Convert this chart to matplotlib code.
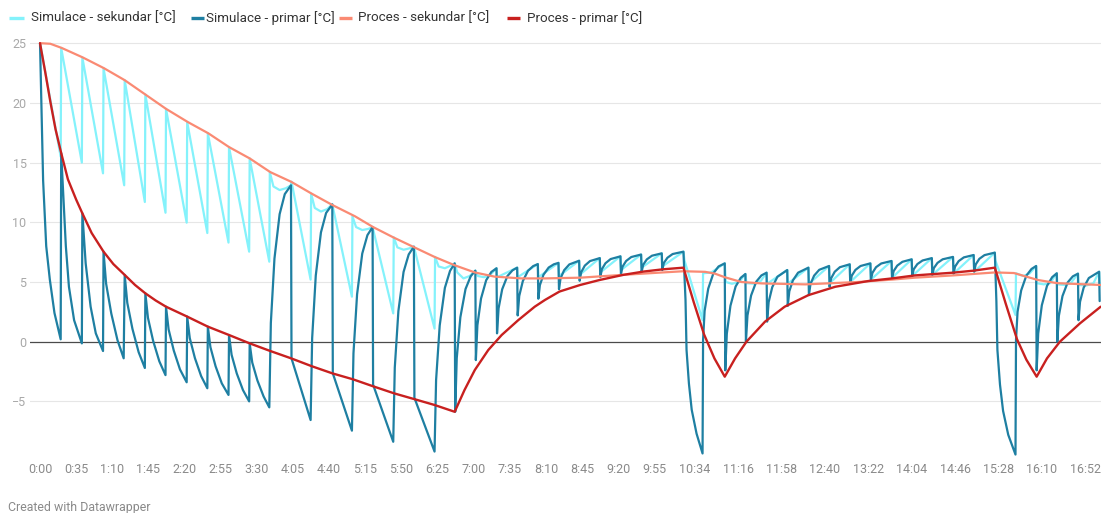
import matplotlib
matplotlib.use("Agg")
import matplotlib.pyplot as plt
from matplotlib.lines import Line2D

plt.rcParams['font.family'] = ['Roboto', 'DejaVu Sans']

# ---------------- data (time in minutes, temperature in °C) ----------------
series_names = ["Simulace - sekundar [°C]", "Simulace - primar [°C]",
                "Proces - sekundar [°C]", "Proces - primar [°C]"]
series_colors = ["#84f2fb", "#1e7fa2", "#fa8a73", "#c8201f"]

x_tick_labels = ['0:00', '0:35', '1:10', '1:45', '2:20', '2:55', '3:30', '4:05',
                 '4:40', '5:15', '5:50', '6:25', '7:00', '7:35', '8:10', '8:45',
                 '9:20', '9:55', '10:34', '11:16', '11:58', '12:40', '13:22',
                 '14:04', '14:46', '15:28', '16:10', '16:52']
y_ticks = [-5, 0, 5, 10, 15, 20, 25]

sim_sekundar = [
    (0, 25), (20, 15.5), (20.5, 24.6), (40.5, 15.0), (41, 23.8), (61, 14.1),
    (61.5, 22.9), (81.5, 13.1), (82, 21.9), (101.5, 11.7), (102, 20.7), (121.5, 10.8),
    (122, 19.5), (142, 9.97), (142.5, 18.4), (162, 9.1), (162.5, 17.45), (182.5, 8.3),
    (183, 16.3), (202.5, 7.54), (203, 15.35), (222, 6.7),
    (222.5, 14.2), (226, 13.0), (232, 12.7), (238, 12.85), (243, 13.1),
    (243.5, 13.4), (262, 5.2),
    (262.5, 12.4), (266, 11.2), (272, 10.9), (278, 11.1), (283, 11.5), (302, 3.77),
    (302.5, 10.5), (306, 9.6), (312, 9.35), (318, 9.45), (322, 9.6), (342, 2.37),
    (342.5, 8.74), (346, 7.9), (352, 7.7), (357, 7.8), (362, 7.96), (382, 1.1),
    (382.5, 7.1), (386, 6.3), (392, 6.15), (397, 6.35), (401.5, 6.56),
    (404, 5.8), (410, 5.3), (416, 5.5), (421.5, 5.95),
    (424, 5.5), (430, 5.4), (436, 5.6), (442, 6.15),
    (442.5, 5.4), (462, 6.2), (462.5, 5.4), (482, 6.5), (482.5, 5.4), (502, 6.6),
    (502.5, 5.5), (522, 6.78), (522.5, 5.6), (542, 7.0), (542.5, 5.8), (562, 7.15),
    (562.5, 6.0), (582, 7.3), (582.5, 6.2), (602, 7.4), (602.5, 6.3), (623, 7.54),
    (624, 6.8), (641.5, 1.8),
    (642, 5.73), (650, 5.8), (656, 6.15), (663, 6.56),
    (664, 5.0), (670, 4.85), (677, 5.0), (683, 5.67),
    (684, 4.9), (692, 4.85), (698, 5.1), (703.5, 5.78),
    (704, 4.85), (723.5, 6.0), (724, 4.85), (744, 6.2), (744.5, 4.85), (764, 6.34),
    (764.5, 4.9), (784, 6.48), (784.5, 5.0), (804, 6.56), (804.5, 5.2), (824.5, 6.76),
    (825, 5.35), (844, 6.9), (844.5, 5.5), (863.5, 7.0), (864, 5.6), (884, 7.1),
    (884.5, 5.7), (904, 7.26), (904.5, 5.85), (924.5, 7.46),
    (925, 6.8), (944.5, 2.24),
    (945, 5.73), (952, 5.5), (958, 5.7), (964.5, 6.34),
    (965, 4.9), (972, 4.8), (978, 4.9), (984.5, 5.73),
    (985, 4.8), (992, 4.75), (998, 4.9), (1005, 5.7),
    (1005.5, 4.75), (1013, 4.7), (1020, 4.9), (1025.5, 5.86), (1026, 4.7),
]

sim_primar = [
    (0, 25), (3, 13.5), (6, 8.0), (9.5, 5.2), (14, 2.4), (20, 0.2),
    (20.5, 15.8), (23.5, 10.7), (25, 8.0), (28, 4.6), (33, 1.8), (40.5, -0.14),
    (41, 10.75), (44.2, 6.56), (49, 2.93), (54, 0.7), (61, -0.78),
    (61.5, 7.54), (64, 4.86), (69, 2.36), (75, 0.13), (81, -1.39),
    (82, 5.59), (84.5, 3.25), (89.5, 1.07), (95.5, -0.88), (101.5, -2.2),
    (102, 4.05), (104.5, 2.0), (109.5, 0.08), (115.5, -1.64), (121.5, -2.8),
    (122, 2.93), (124.5, 1.03), (129.5, -0.74), (135.5, -2.32), (142, -3.4),
    (142.5, 2.1), (145, 0.3), (150, -1.38), (156, -2.88), (162, -3.9),
    (162.5, 1.26), (165, -0.46), (170, -2.06), (176, -3.49), (182.5, -4.46),
    (183, 0.56), (185.5, -1.1), (190.5, -2.66), (196.5, -4.05), (202.5, -5.0),
    (203, -0.14), (205.5, -1.75), (210.5, -3.25), (216.5, -4.59), (222, -5.5),
    (223.5, 1.57), (227, 6.96), (232, 10.68), (237, 12.36), (243, 13.1),
    (243.5, -1.4), (262, -6.56),
    (263.5, 0.3), (267, 5.54), (272, 9.15), (277, 10.78), (283, 11.5),
    (283.5, -2.65), (302, -7.45),
    (303.5, -0.97), (307, 3.97), (312, 7.38), (317, 8.92), (322, 9.6),
    (322.5, -3.6), (342, -8.38),
    (343.5, -2.17), (347, 2.57), (352, 5.84), (357, 7.31), (362, 7.96),
    (362.5, -4.7), (382, -9.2),
    (383.5, -3.21), (387, 1.36), (392, 4.51), (397, 5.93), (401.5, 6.56),
    (402, -5.87), (403.5, -1.38), (407, 2.05), (412, 4.41), (417, 5.48), (421.5, 5.95),
    (422, -1.54), (423.5, 1.38), (427, 3.61), (432, 5.15), (437, 5.84), (442, 6.15),
    (442.5, 0.7), (444, 2.79), (447.5, 4.39), (452.5, 5.49), (457.5, 5.98), (462, 6.2),
    (462.5, 2.2), (464, 3.83), (467.5, 5.08), (472.5, 5.94), (477.5, 6.33), (482, 6.5),
    (482.5, 3.6), (484, 4.74), (487.5, 5.61), (492.5, 6.21), (497.5, 6.48), (502, 6.6),
    (502.5, 4.4), (504, 5.3), (507.5, 5.99), (512.5, 6.47), (522, 6.78),
    (522.5, 5.1), (524, 5.82), (527.5, 6.37), (532.5, 6.75), (542, 7.0),
    (542.5, 5.4), (544, 6.07), (547.5, 6.57), (552.5, 6.92), (562, 7.15),
    (562.5, 5.65), (564, 6.28), (567.5, 6.76), (572.5, 7.09), (582, 7.3),
    (582.5, 5.85), (584, 6.44), (587.5, 6.89), (592.5, 7.2), (602, 7.4),
    (602.5, 6.0), (604, 6.59), (607.5, 7.03), (612.5, 7.34), (623, 7.54),
    (625, 3.5), (626, -0.7), (628.3, -3.5), (631, -5.7), (635.7, -7.7), (641.5, -9.36),
    (642, 0.14), (643.5, 2.58), (647, 4.44), (652, 5.73), (657, 6.3), (663, 6.56),
    (663.5, -2.4), (665, 0.67), (668.5, 3.01), (673.5, 4.62), (678.5, 5.35), (683, 5.67),
    (683.5, 0.0), (685, 2.2), (688.5, 3.87), (693.5, 5.03), (698.5, 5.55), (703.5, 5.78),
    (704, 1.68), (705.5, 3.32), (709, 4.57), (714, 5.44), (723.5, 6.0),
    (724, 3.0), (725.5, 4.22), (729, 5.14), (734, 5.78), (744, 6.2),
    (744.5, 3.9), (746, 4.83), (749.5, 5.53), (754.5, 6.02), (764, 6.34),
    (764.5, 4.6), (766, 5.31), (769.5, 5.86), (774.5, 6.24), (784, 6.48),
    (784.5, 4.9), (786, 5.53), (789.5, 6.01), (794.5, 6.34), (804, 6.56),
    (804.5, 5.17), (806, 5.77), (809.5, 6.24), (814.5, 6.55), (824.5, 6.76),
    (825, 5.3), (826.5, 5.91), (830, 6.37), (835, 6.69), (844, 6.9),
    (844.5, 5.5), (846, 6.07), (849.5, 6.5), (854.5, 6.8), (863.5, 7.0),
    (864, 5.6), (865.5, 6.17), (869, 6.6), (874, 6.9), (884, 7.1),
    (884.5, 5.7), (886, 6.29), (889.5, 6.75), (894.5, 7.06), (904, 7.26),
    (904.5, 5.87), (906, 6.47), (909.5, 6.94), (914.5, 7.25), (924.5, 7.46),
    (926, 3.4), (927, -0.7), (929.5, -3.6), (932.5, -5.8), (937.5, -7.8), (944.5, -9.45),
    (945, 0.14), (946.5, 2.5), (950, 4.29), (955, 5.53), (960, 6.09), (964.5, 6.34),
    (965, -2.4), (966.5, 0.69), (970, 3.05), (975, 4.67), (980, 5.4), (984.5, 5.73),
    (985, 0.0), (986.5, 2.17), (990, 3.82), (995, 4.96), (1000, 5.47), (1005, 5.7),
    (1005.5, 1.8), (1007, 3.34), (1010.5, 4.52), (1015.5, 5.33), (1025.5, 5.86),
    (1026, 3.4),
]

proc_sekundar = [
    (0, 25), (10, 24.95), (21, 24.6), (41.5, 23.8), (62, 22.9), (82, 21.9), (102, 20.7),
    (122, 19.5), (143, 18.4), (163, 17.45), (183, 16.3), (203, 15.35), (223, 14.2),
    (243, 13.4), (263, 12.4), (283, 11.45), (305, 10.5), (322.5, 9.6), (342, 8.74),
    (361, 7.96), (382, 7.1), (401.5, 6.4), (421, 5.8), (440, 5.45), (466, 5.3),
    (489, 5.3), (523, 5.36), (565, 5.6), (603, 5.8), (623, 5.9), (644, 5.85),
    (653.5, 5.7), (663, 5.4), (679, 5.0), (699, 4.88), (741, 4.8), (792, 5.0),
    (825, 5.2), (847, 5.36), (884, 5.55), (924.5, 5.8), (943, 5.75), (953, 5.5),
    (966, 5.17), (985, 4.9), (1027, 4.75),
]

proc_primar = [
    (0, 25), (5, 22.6), (10, 20.1), (15, 17.8), (20.5, 15.8), (27, 13.6), (35, 11.9),
    (41, 10.75), (50, 9.1), (61.5, 7.54), (71, 6.5), (82, 5.59), (92, 4.75), (102, 4.05),
    (112, 3.45), (122, 2.93), (142.5, 2.1), (162.5, 1.26), (183, 0.56), (203, -0.14),
    (222, -0.75), (243, -1.39), (263, -2.05), (283, -2.65), (303, -3.15), (323, -3.75),
    (343, -4.33), (362, -4.8), (382, -5.3), (401.5, -5.87), (411, -4.05), (421, -2.37),
    (434, -0.7), (447, 0.56), (463, 1.8), (479, 2.93), (489, 3.5), (503, 4.2),
    (523, 4.75), (542, 5.17), (565, 5.6), (584, 5.87), (603, 6.06), (623, 6.2),
    (633, 3.3), (643, 0.6), (653, -1.4), (663, -2.93), (673, -1.4), (684, 0.0),
    (702, 1.68), (721, 2.93), (744, 3.9), (770, 4.6), (802, 5.08), (825, 5.3),
    (847, 5.55), (884, 5.78), (904, 5.95), (924.5, 6.2), (935, 3.2), (946, 0.2),
    (955, -1.5), (965, -2.93), (975, -1.4), (987.5, 0.0), (1007, 1.54), (1027, 2.93),
]

# ---------------- figure ----------------
W, H = 1101, 513
fig = plt.figure(figsize=(W / 100, H / 100), dpi=100)
ax_left, ax_right, ax_top, ax_bottom = 30, 1101, 37.2, 461.1
ax = fig.add_axes([ax_left / W, 1 - ax_bottom / H, (ax_right - ax_left) / W,
                   (ax_bottom - ax_top) / H])
ax.set_xlim(-9.7, 1027.3)
ax.set_ylim(-10, 25.5)

for yv in y_ticks:
    if yv == 0:
        ax.axhline(yv, color="#4a4a4a", lw=0.9, zorder=1)
    else:
        ax.axhline(yv, color="#e6e6e6", lw=0.8, zorder=0)

all_series = [sim_sekundar, sim_primar, proc_sekundar, proc_primar]
widths = [1.6, 1.6, 1.6, 1.7]
for i, s in enumerate(all_series):
    ts = [p[0] for p in s]
    vs = [p[1] for p in s]
    ax.plot(ts, vs, color=series_colors[i], lw=widths[i], zorder=2 + i,
            solid_joinstyle='round', solid_capstyle='round')

x_ticks = [int(l.split(':')[0]) * 60 + int(l.split(':')[1]) for l in x_tick_labels]
ax.set_xticks(x_ticks)
ax.set_xticklabels(x_tick_labels)
ax.set_yticks(y_ticks)
ax.set_yticklabels([("\u2212" + str(-v)) if v < 0 else str(v) for v in y_ticks])
ax.tick_params(axis='x', length=0, pad=1.5, labelsize=9, labelcolor="#8a8a8a")
ax.tick_params(axis='y', length=0, pad=2.5, labelsize=9, labelcolor="#a8a8a8")
for sp in ax.spines.values():
    sp.set_visible(False)
ax.patch.set_alpha(0)

# legend (manual, top-left)
leg_y = 17.5
leg_items = [(9, 24, 31), (191, 204, 206), (339, 352, 358), (507, 520, 527)]
for i, (x0, x1, xt) in enumerate(leg_items):
    fig.add_artist(Line2D([x0 / W, x1 / W], [1 - leg_y / H, 1 - leg_y / H],
                          transform=fig.transFigure, color=series_colors[i], lw=2.4,
                          solid_capstyle='butt'))
    fig.text(xt / W, 1 - (leg_y + 0.5) / H, series_names[i], fontsize=9.6,
             color="#333333", va='center', ha='left')

fig.text(8 / W, 1 - 507 / H, "Created with Datawrapper", fontsize=8.9,
         color="#8a8a8a", va='center', ha='left')

fig.savefig("out.png", dpi=100)
